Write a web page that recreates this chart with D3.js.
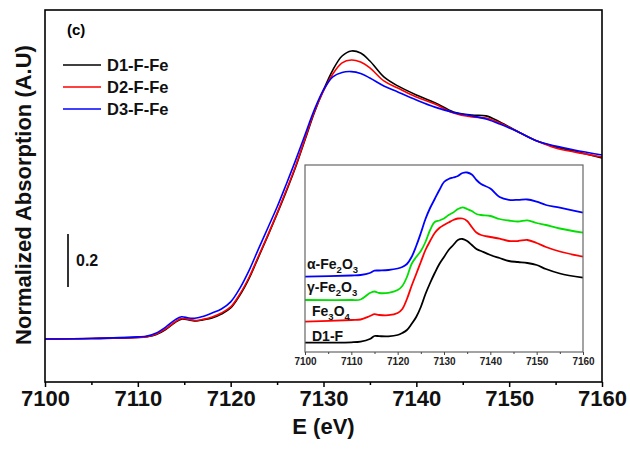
<!DOCTYPE html>
<html>
<head>
<meta charset="utf-8">
<script src="https://cdn.jsdelivr.net/npm/d3@7"></script>
<style>
  body { margin: 0; background: #fff; }
  svg { font-family: Arial, "Liberation Sans", sans-serif; font-weight: bold; }
</style>
</head>
<body>
<svg id="chart" width="630" height="451"></svg>
<script>
// ---------------------------------------------------------------
// main panel data (normalised absorption, pre-edge = 0)
const energy = [7100, 7105, 7110, 7111, 7112, 7113, 7114, 7114.7, 7115.5, 7116.3, 7117, 7118, 7119, 7120,
  7121, 7122, 7123, 7124, 7125, 7126, 7127, 7128, 7129, 7130, 7131, 7132, 7133, 7134, 7135, 7136.5,
  7138, 7140, 7142, 7144, 7146, 7147.5, 7149, 7151, 7153, 7155, 7157, 7160]

const d1 = [0, 0.002, 0.006, 0.009, 0.017, 0.036, 0.062, 0.075, 0.072, 0.068, 0.072, 0.079, 0.094, 0.117,
  0.166, 0.230, 0.309, 0.389, 0.472, 0.558, 0.649, 0.751, 0.853, 0.940, 1.015, 1.068, 1.087, 1.079, 1.049, 0.989,
  0.955, 0.921, 0.892, 0.857, 0.845, 0.842, 0.819, 0.781, 0.747, 0.725, 0.709, 0.683]
const d2 = [0, 0.002, 0.006, 0.009, 0.019, 0.038, 0.064, 0.077, 0.074, 0.070, 0.074, 0.083, 0.098, 0.121,
  0.170, 0.234, 0.313, 0.392, 0.475, 0.562, 0.653, 0.755, 0.857, 0.936, 1.000, 1.042, 1.053, 1.045, 1.023, 0.974,
  0.947, 0.913, 0.887, 0.853, 0.838, 0.834, 0.815, 0.781, 0.747, 0.721, 0.706, 0.687]
const d3s = [0, 0.002, 0.008, 0.011, 0.023, 0.045, 0.072, 0.084, 0.079, 0.079, 0.085, 0.098, 0.113, 0.140,
  0.192, 0.260, 0.340, 0.419, 0.498, 0.585, 0.675, 0.770, 0.864, 0.940, 0.989, 1.006, 1.009, 1.002, 0.985, 0.955,
  0.932, 0.902, 0.875, 0.855, 0.842, 0.830, 0.811, 0.781, 0.747, 0.728, 0.713, 0.694]

const seriesNames = ["D1-F-Fe", "D2-F-Fe", "D3-F-Fe"]
const seriesColors = ["#000000", "#ff0000", "#0000ff"]
const majorTicks = [7100, 7110, 7120, 7130, 7140, 7150, 7160]
const minorTicks = [7105, 7115, 7125, 7135, 7145, 7155]

// ---------------------------------------------------------------
// inset data (stacked references, arbitrary offsets)
const insetEnergy = [7100, 7110, 7112, 7114, 7115, 7116, 7118, 7120, 7121, 7122, 7123, 7124, 7125, 7126,
  7127, 7128, 7129, 7130, 7131, 7132, 7133, 7134, 7135, 7136, 7137, 7138, 7140, 7142, 7144, 7146, 7148,
  7150, 7152, 7155, 7160]
const alphaFe2O3 = [0.753, 0.765, 0.77, 0.79, 0.813, 0.815, 0.82, 0.835, 0.85, 0.88, 0.95, 1.06, 1.19, 1.33,
  1.44, 1.53, 1.62, 1.70, 1.73, 1.745, 1.76, 1.79, 1.795, 1.775, 1.72, 1.68, 1.635, 1.55, 1.522, 1.521, 1.525,
  1.503, 1.47, 1.443, 1.393]
const gammaFe2O3 = [0.52, 0.52, 0.525, 0.59, 0.605, 0.59, 0.592, 0.62, 0.66, 0.75, 0.88, 0.95, 1.01, 1.10,
  1.22, 1.30, 1.315, 1.335, 1.37, 1.395, 1.43, 1.447, 1.43, 1.41, 1.38, 1.37, 1.36, 1.33, 1.315, 1.305, 1.317,
  1.29, 1.27, 1.235, 1.193]
const fe3o4 = [0.303, 0.32, 0.325, 0.36, 0.378, 0.37, 0.368, 0.39, 0.43, 0.53, 0.66, 0.78, 0.90, 1.02,
  1.11, 1.19, 1.24, 1.27, 1.295, 1.32, 1.335, 1.335, 1.31, 1.25, 1.195, 1.17, 1.15, 1.133, 1.11, 1.11, 1.12,
  1.09, 1.05, 1.005, 0.953]
const d1f = [0.093, 0.097, 0.104, 0.13, 0.16, 0.158, 0.157, 0.17, 0.19, 0.22, 0.28, 0.35, 0.45, 0.58,
  0.69, 0.79, 0.88, 0.95, 1.02, 1.07, 1.12, 1.13, 1.11, 1.07, 1.03, 1.01, 0.97, 0.94, 0.91, 0.90, 0.89,
  0.87, 0.83, 0.785, 0.743]
const insetColors = ["#0000ff", "#00e000", "#ff0000", "#000000"]

const scaleBarBase = 0.196
const scaleBarSize = 0.2

// ---------------------------------------------------------------
const svg = d3.select("#chart")

const margin = {left: 45, right: 28, top: 10, bottom: 69}
const W = 630, H = 451

const x = d3.scaleLinear().domain([7100, 7160]).range([margin.left, W - margin.right])
const y = d3.scaleLinear().domain([-0.1623, 1.2415]).range([H - margin.bottom, margin.top])

const line = d3.line()
  .x(d => x(d[0]))
  .y(d => y(d[1]))
  .curve(d3.curveCatmullRom.alpha(0.5))

const mainSeries = [d1, d2, d3s]

// curves
svg.append("g")
  .selectAll("path")
  .data(mainSeries)
  .enter()
  .append("path")
    .attr("d", s => line(energy.map((e, i) => [e, s[i]])))
    .attr("fill", "none")
    .attr("stroke", (s, i) => seriesColors[i])
    .attr("stroke-width", 1.6)

// frame
svg.append("rect")
  .attr("x", x(7100)).attr("y", y(1.2415))
  .attr("width", x(7160) - x(7100))
  .attr("height", y(-0.1623) - y(1.2415))
  .attr("fill", "none")
  .attr("stroke", "#000")
  .attr("stroke-width", 1.6)

// x axis
const xMajor = svg.append("g")
  .attr("transform", `translate(0,${y(-0.1623)})`)
  .call(d3.axisBottom(x).tickValues(majorTicks).tickFormat(d3.format("d")).tickSize(5).tickPadding(3))
xMajor.select(".domain").remove()
xMajor.selectAll("line").attr("stroke-width", 1.5)
xMajor.selectAll("text").attr("font-size", "22px").attr("font-family", null).attr("fill", "#111")

const xMinor = svg.append("g")
  .attr("transform", `translate(0,${y(-0.1623)})`)
  .call(d3.axisBottom(x).tickValues(minorTicks).tickFormat("").tickSize(3))
xMinor.select(".domain").remove()
xMinor.selectAll("line").attr("stroke-width", 1.5)

svg.append("text")
  .attr("x", (x(7100) + x(7160)) / 2)
  .attr("y", 434)
  .attr("text-anchor", "middle")
  .attr("font-size", "22px")
  .attr("fill", "#111")
  .text("E (eV)")

svg.append("text")
  .attr("transform", `translate(30.5,195) rotate(-90)`)
  .attr("text-anchor", "middle")
  .attr("font-size", "22px")
  .attr("fill", "#111")
  .text("Normalized Absorption (A.U)")

// panel tag
svg.append("text")
  .attr("x", 67).attr("y", 35)
  .attr("font-size", "15px")
  .text("(c)")

// legend
const legend = svg.append("g")
seriesNames.forEach((name, i) => {
  const ly = 65 + i * 22
  legend.append("line")
    .attr("x1", 63).attr("x2", 101)
    .attr("y1", ly).attr("y2", ly)
    .attr("stroke", seriesColors[i])
    .attr("stroke-width", 1.6)
  legend.append("text")
    .attr("x", 107).attr("y", ly + 6)
    .attr("font-size", "16.5px")
    .attr("fill", "#111")
    .text(name)
})

// scale bar
svg.append("line")
  .attr("x1", 68).attr("x2", 68)
  .attr("y1", y(scaleBarBase)).attr("y2", y(scaleBarBase + scaleBarSize))
  .attr("stroke", "#000")
  .attr("stroke-width", 1.6)
svg.append("text")
  .attr("x", 76).attr("y", 266)
  .attr("font-size", "16px")
  .attr("fill", "#111")
  .text("0.2")

// ---------------------------------------------------------------
// inset
const inset = {x0: 305, x1: 583, y0: 165, y1: 352}
const xi = d3.scaleLinear().domain([7100, 7160]).range([inset.x0, inset.x1])
const yi = d3.scaleLinear().domain([0, 1.87]).range([inset.y1, inset.y0])

const insetLine = d3.line()
  .x(d => xi(d[0]))
  .y(d => yi(d[1]))
  .curve(d3.curveCatmullRom.alpha(0.5))

svg.append("rect")
  .attr("x", inset.x0).attr("y", inset.y0)
  .attr("width", inset.x1 - inset.x0)
  .attr("height", inset.y1 - inset.y0)
  .attr("fill", "#fff")

svg.append("g")
  .selectAll("path")
  .data([alphaFe2O3, gammaFe2O3, fe3o4, d1f])
  .enter()
  .append("path")
    .attr("d", s => insetLine(insetEnergy.map((e, i) => [e, s[i]])))
    .attr("fill", "none")
    .attr("stroke", (s, i) => insetColors[i])
    .attr("stroke-width", 1.8)

svg.append("rect")
  .attr("x", inset.x0).attr("y", inset.y0)
  .attr("width", inset.x1 - inset.x0)
  .attr("height", inset.y1 - inset.y0)
  .attr("fill", "none")
  .attr("stroke", "#666")
  .attr("stroke-width", 1.2)

const xiMajor = svg.append("g")
  .attr("transform", `translate(0,${inset.y1})`)
  .call(d3.axisBottom(xi).tickValues(majorTicks).tickFormat(d3.format("d")).tickSize(3).tickPadding(3))
xiMajor.select(".domain").remove()
xiMajor.selectAll("line").attr("stroke", "#444")
xiMajor.selectAll("text").attr("font-size", "10px").attr("font-family", null).attr("fill", "#222")

const xiMinor = svg.append("g")
  .attr("transform", `translate(0,${inset.y1})`)
  .call(d3.axisBottom(xi).tickValues(minorTicks).tickFormat("").tickSize(2))
xiMinor.select(".domain").remove()
xiMinor.selectAll("line").attr("stroke", "#444")

// inset labels with subscripts
function chemLabel(px, py, parts) {
  const t = svg.append("text")
    .attr("x", px).attr("y", py)
    .attr("font-size", "14px")
    .attr("fill", "#111")
  let shifted = false
  parts.forEach(p => {
    const sub = typeof p === "number"
    const ts = t.append("tspan").text(p)
    if (sub && !shifted) { ts.attr("dy", 4).attr("font-size", "9.5px"); shifted = true }
    else if (sub) { ts.attr("dy", 0).attr("font-size", "9.5px") }
    else if (shifted) { ts.attr("dy", -4); shifted = false }
  })
}
chemLabel(307, 269, ["α-Fe", 2, "O", 3])
chemLabel(307, 292, ["γ-Fe", 2, "O", 3])
chemLabel(312, 316, ["Fe", 3, "O", 4])
chemLabel(312, 341, ["D1-F"])
</script>
</body>
</html>
